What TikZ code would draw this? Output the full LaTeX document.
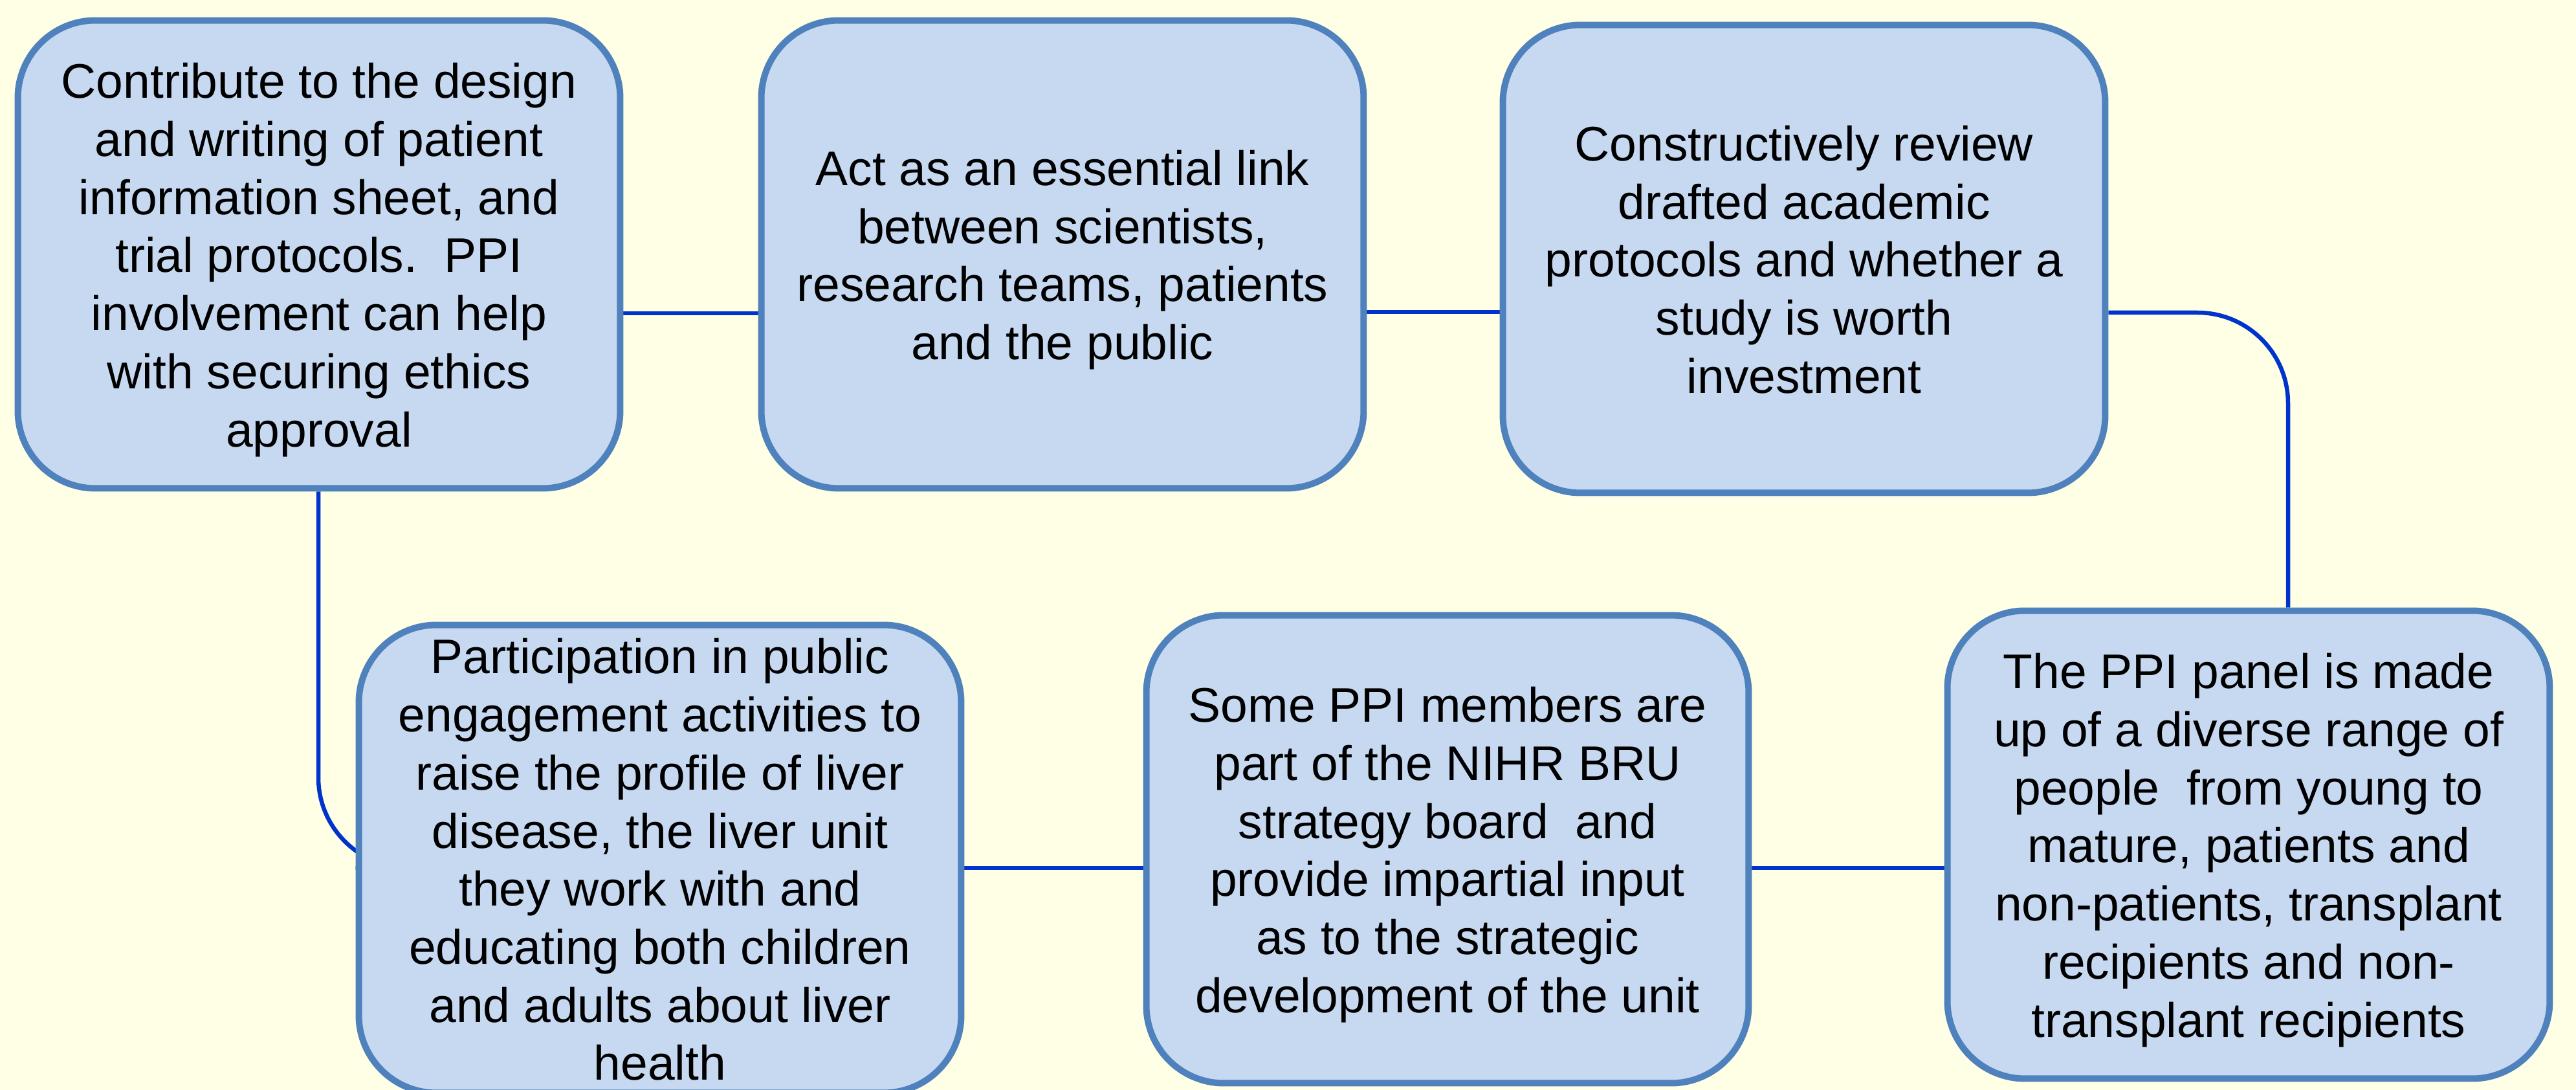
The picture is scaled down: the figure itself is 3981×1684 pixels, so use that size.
\documentclass[tikz,border=0pt]{standalone}
\usepackage{fontspec}
\setmainfont{Liberation Sans}
\definecolor{pagebg}{HTML}{FFFFE5}
\definecolor{boxfill}{HTML}{C6D9F1}
\definecolor{boxline}{HTML}{4F81BD}
\definecolor{linkcol}{HTML}{0033CC}
\pgfdeclarelayer{bgfill}
\pgfdeclarelayer{links}
\pgfsetlayers{bgfill,links,main}
\newcommand{\boxtext}[1]{\raisebox{-1pt}[\height][\depth]{\begin{tabular}{@{}c@{}}#1\end{tabular}}}
\tikzset{
  infobox/.style={draw=boxline, fill=boxfill, line width=1pt, rounded corners=12pt,
    minimum width=93.1pt, minimum height=72.3pt, inner sep=0pt,
    font=\fontsize{7.5pt}{8.97pt}\selectfont},
  link/.style={draw=linkcol, line width=0.65pt},
}
\begin{document}
\begin{tikzpicture}[x=0.1pt, y=-0.1pt]
\useasboundingbox (0,0) rectangle (3981,1684);
\begin{pgfonlayer}{bgfill}
\fill[pagebg] (0,0) rectangle (3981,1684);
\end{pgfonlayer}

\node[infobox] (b1) at (493,393) {\boxtext{Contribute to the design\\and writing of patient\\information sheet, and\\trial protocols.~~PPI\\involvement can help\\with securing ethics\\approval}};
\node[infobox] (b2) at (1642,393) {\boxtext{Act as an essential link\\between scientists,\\research teams, patients\\and the public}};
\node[infobox] (b3) at (2788,400) {\boxtext{Constructively review\\drafted academic\\protocols and whether a\\study is worth\\investment}};
\node[infobox] (b4) at (1020,1327) {\boxtext{Participation in public\\engagement activities to\\raise the profile of liver\\disease, the liver unit\\they work with and\\educating both children\\and adults about liver\\health}};
\node[infobox] (b5) at (2237,1312) {\boxtext{Some PPI members are\\part of the NIHR BRU\\strategy board~~and\\provide impartial input\\as to the strategic\\development of the unit}};
\node[infobox] (b6) at (3475,1305) {\boxtext{The PPI panel is made\\up of a diverse range of\\people~~from young to\\mature, patients and\\non-patients, transplant\\recipients and non-\\transplant recipients}};

\begin{pgfonlayer}{links}
\draw[link] (b1.east |- 0,484) -- (b2.west |- 0,484);
\draw[link] (b2.east |- 0,482) -- (b3.west |- 0,482);
\draw[link, rounded corners=14pt] (b3.east |- 0,483) -| (b6.north -| 3536,0);
\draw[link, rounded corners=14pt] (b1.south -| 492,0) |- (b4.west |- 0,1341);
\draw[link] (b4.east |- 0,1341) -- (b5.west |- 0,1341);
\draw[link] (b5.east |- 0,1341) -- (b6.west |- 0,1341);
\end{pgfonlayer}
\end{tikzpicture}
\end{document}
